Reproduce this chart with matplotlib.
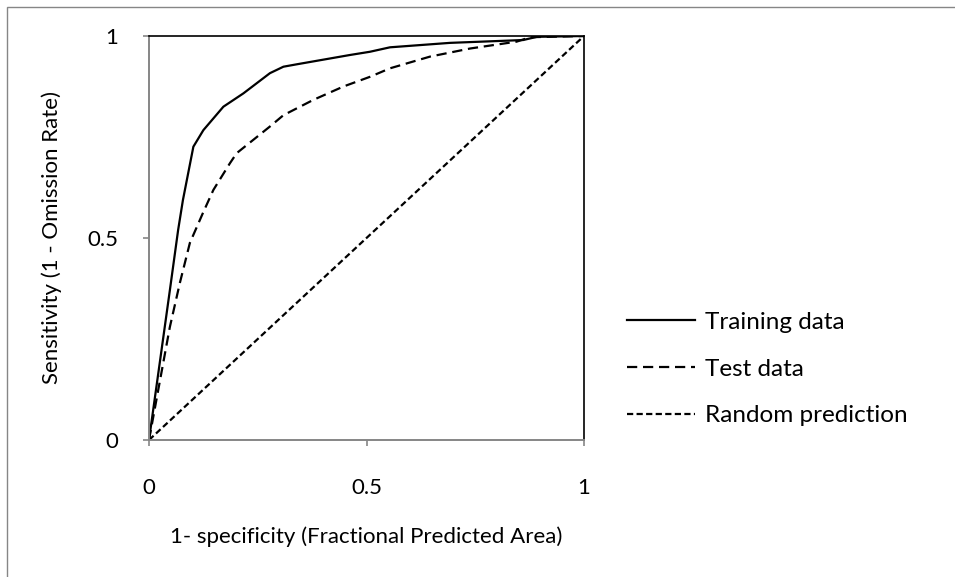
import matplotlib
matplotlib.use("Agg")
import matplotlib.pyplot as plt
from matplotlib.patches import Rectangle

# Data
train_x = [0, 0.048, 0.067, 0.078, 0.102, 0.125, 0.171, 0.217, 0.278, 0.309, 0.340,
           0.462, 0.508, 0.554, 0.692, 0.86, 0.892, 1.0]
train_y = [0, 0.371, 0.52, 0.594, 0.726, 0.767, 0.825, 0.858, 0.908, 0.924, 0.930,
           0.953, 0.961, 0.972, 0.983, 0.99, 0.998, 1.0]

test_x = [0, 0.048, 0.071, 0.094, 0.124, 0.148, 0.186, 0.2016, 0.278, 0.309, 0.378,
          0.447, 0.508, 0.554, 0.646, 0.738, 0.845, 0.876, 1.0]
test_y = [0, 0.28, 0.389, 0.488, 0.562, 0.619, 0.685, 0.71, 0.776, 0.804, 0.842,
          0.875, 0.899, 0.92, 0.949, 0.969, 0.986, 0.997, 1.0]

rand_x = [0, 1]
rand_y = [0, 1]

ticks = [0, 0.5, 1]
tick_labels = ["0", "0.5", "1"]
series_labels = ["Training data", "Test data", "Random prediction"]

plt.rcParams['font.family'] = ['Lato', 'DejaVu Sans']
fig = plt.figure(figsize=(9.55, 5.77), dpi=100)
W, H = 955, 577

# Outer border (light gray, partly cut off at right/bottom)
fig.patches.append(Rectangle((7 / W, -0.1), 1.2, 1.1 - 7 / H, transform=fig.transFigure,
                             fill=False, edgecolor='#868686', linewidth=1.0))

ax = fig.add_axes([149 / W, 1 - 440 / H, 435 / W, 404 / H])
ax.plot(train_x, train_y, color='black', lw=1.6, solid_joinstyle='round', label=series_labels[0])
ax.plot(test_x, test_y, color='black', lw=1.6, dashes=(4.6, 2.6), label=series_labels[1])
ax.plot(rand_x, rand_y, color='black', lw=1.6, dashes=(2.8, 1.5), label=series_labels[2])

ax.set_xlim(0, 1)
ax.set_ylim(0, 1)
ax.set_xticks(ticks)
ax.set_xticklabels(tick_labels)
ax.set_yticks(ticks)
ax.set_yticklabels(tick_labels)
for s in ['left', 'bottom']:
    ax.spines[s].set_color('#868686')
    ax.spines[s].set_linewidth(1.4)
for s in ['top', 'right']:
    ax.spines[s].set_color('black')
    ax.spines[s].set_linewidth(1.2)

fs = 16
ax.tick_params(direction='out', length=4, width=1.2, color='#868686',
               labelsize=fs, labelcolor='black')
ax.tick_params(axis='x', pad=23)
ax.tick_params(axis='y', pad=18)

ax.set_xlabel("1- specificity (Fractional Predicted Area)", fontsize=fs, labelpad=21)
ax.set_ylabel("Sensitivity (1 - Omission Rate)", fontsize=fs, labelpad=18)

lfs = 17.5
fpx = lfs * 100 / 72
leg = ax.legend(loc='center left', bbox_to_anchor=(627 / W, 1 - 369 / H),
                bbox_transform=fig.transFigure, frameon=False, borderpad=0, borderaxespad=0,
                fontsize=lfs, handlelength=68 / fpx, labelspacing=(50 - fpx) / fpx,
                handletextpad=10 / fpx)

fig.savefig("out.png", dpi=100)
